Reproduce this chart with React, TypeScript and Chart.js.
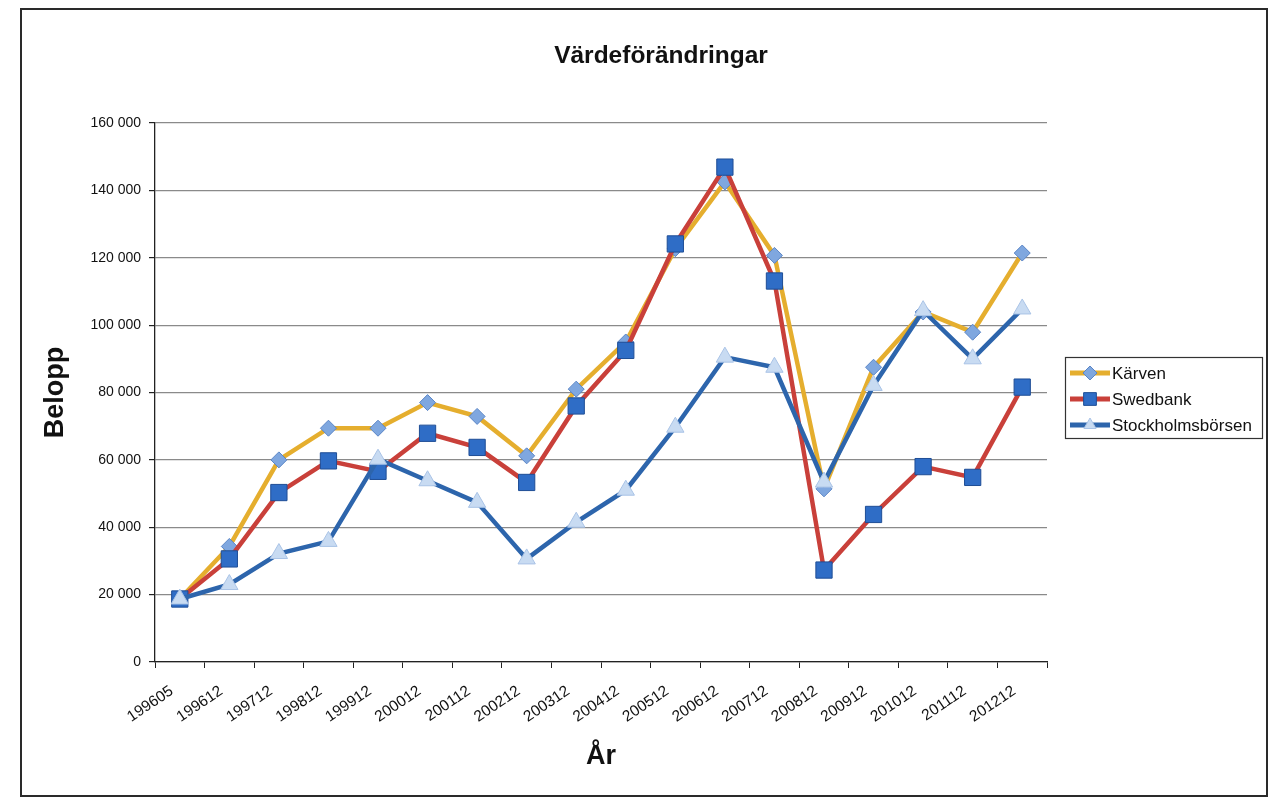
import React, { useEffect, useRef } from "react";
import { Chart, registerables } from "chart.js";

Chart.register(...registerables);

const TITLE = "Värdeförändringar";
const Y_TITLE = "Belopp";
const X_TITLE = "År";

const categories = [
  "199605", "199612", "199712", "199812", "199912", "200012", "200112", "200212", "200312",
  "200412", "200512", "200612", "200712", "200812", "200912", "201012", "201112", "201212",
];

const seriesNames = ["Kärven", "Swedbank", "Stockholmsbörsen"];

const karven = [18700, 34300, 60000, 69400, 69400, 77000, 72900, 61200, 81000, 95000, 122700, 142500, 120700, 51400, 87500, 103900, 97900, 121400];
const swedbank = [18700, 30600, 50300, 59700, 56600, 67900, 63700, 53300, 76000, 92500, 124100, 146900, 113100, 27300, 43800, 58000, 54800, 81600];
const stockholm = [18700, 23000, 32200, 35800, 60200, 53800, 47400, 30600, 41500, 51000, 69700, 90500, 87500, 53400, 82100, 104300, 90000, 104800];

const Y_MIN = 0;
const Y_MAX = 160000;
const Y_STEP = 20000;

const FONT = "'Liberation Sans', Arial, Helvetica, sans-serif";

const W = 1244;
const H = 785;

function fmt(v: number) {
  return String(v).replace(/\B(?=(\d{3})+(?!\d))/g, " ");
}

function drawMarker(ctx: CanvasRenderingContext2D, style: string, x: number, y: number, r: number, fill: string, stroke: string) {
  ctx.save();
  ctx.beginPath();
  if (style === "rectRot") {
    ctx.moveTo(x - r, y);
    ctx.lineTo(x, y - r);
    ctx.lineTo(x + r, y);
    ctx.lineTo(x, y + r);
    ctx.closePath();
  } else if (style === "rect") {
    const s = r * Math.SQRT1_2;
    ctx.rect(x - s, y - s, 2 * s, 2 * s);
  } else {
    const h = r * 1.5;
    const half = r * Math.sqrt(3) / 2;
    ctx.moveTo(x, y - r);
    ctx.lineTo(x + half, y - r + h);
    ctx.lineTo(x - half, y - r + h);
    ctx.closePath();
  }
  ctx.fillStyle = fill;
  ctx.fill();
  ctx.lineWidth = 1;
  ctx.strokeStyle = stroke;
  ctx.stroke();
  ctx.restore();
}

const decoPlugin = {
  id: "deco",
  afterDraw(chart: any) {
    const ctx: CanvasRenderingContext2D = chart.ctx;
    ctx.save();
    // Title
    ctx.fillStyle = "#111";
    ctx.font = `bold 24.5px ${FONT}`;
    ctx.textAlign = "center";
    ctx.textBaseline = "alphabetic";
    ctx.fillText(TITLE, 639, 53);

    // Legend
    const bx = 1043, by = 347, bw = 197, bh = 81;
    ctx.strokeStyle = "#333";
    ctx.lineWidth = 1.2;
    ctx.strokeRect(bx + 0.5, by + 0.5, bw, bh);
    const rows = [363, 389, 415];
    chart.data.datasets.forEach((ds: any, i: number) => {
      const y = rows[i];
      ctx.beginPath();
      ctx.moveTo(1048, y);
      ctx.lineTo(1088, y);
      ctx.strokeStyle = ds.borderColor;
      ctx.lineWidth = 5;
      ctx.stroke();
      drawMarker(ctx, ds.pointStyle, 1068, y, ds.pointStyle === "rect" ? 9 : 7, ds.pointBackgroundColor, ds.pointBorderColor);
      ctx.fillStyle = "#111";
      ctx.font = `17px ${FONT}`;
      ctx.textAlign = "left";
      ctx.textBaseline = "middle";
      ctx.fillText(seriesNames[i], 1090, y + 1);
    });
    ctx.restore();
  },
};

export default function App() {
  const ref = useRef<HTMLCanvasElement | null>(null);
  useEffect(() => {
    if (!ref.current) return;
    const chart = new Chart(ref.current, {
      type: "line",
      data: {
        labels: categories,
        datasets: [
          {
            label: seriesNames[0],
            data: karven,
            borderColor: "#E5AE2E",
            borderWidth: 4.5,
            pointStyle: "rectRot",
            pointRadius: 8,
            pointBackgroundColor: "#7FA7DF",
            pointBorderColor: "#5A85C6",
            pointBorderWidth: 1,
            tension: 0,
            order: 3,
          },
          {
            label: seriesNames[1],
            data: swedbank,
            borderColor: "#C9403A",
            borderWidth: 4.5,
            pointStyle: "rect",
            pointRadius: 11.5,
            pointBackgroundColor: "#2F6DC6",
            pointBorderColor: "#1F4E96",
            pointBorderWidth: 1,
            tension: 0,
            order: 2,
          },
          {
            label: seriesNames[2],
            data: stockholm,
            borderColor: "#2D65AC",
            borderWidth: 4.5,
            pointStyle: "triangle",
            pointRadius: 10,
            pointBackgroundColor: "#C8DBF2",
            pointBorderColor: "#A9C3E6",
            pointBorderWidth: 1,
            tension: 0,
            order: 1,
          },
        ] as any,
      },
      plugins: [decoPlugin],
      options: {
        animation: false,
        responsive: false,
        devicePixelRatio: 1,
        layout: { padding: { top: 113, right: 219, bottom: 0, left: 0 } },
        plugins: {
          legend: { display: false },
          title: { display: false },
          tooltip: { enabled: false },
        },
        scales: {
          x: {
            type: "category",
            offset: true,
            grid: {
              offset: true,
              drawOnChartArea: false,
              drawTicks: true,
              tickLength: 6,
              color: "#222",
              tickColor: "#222",
            },
            border: { display: true, color: "#222", width: 1.3 },
            ticks: {
              autoSkip: false,
              minRotation: 34,
              maxRotation: 34,
              padding: 14,
              labelOffset: -8,
              color: "#111",
              font: { family: FONT, size: 15.5 },
            },
            title: {
              display: true,
              text: X_TITLE,
              color: "#111",
              font: { family: FONT, size: 27, weight: "bold" },
              padding: { top: 0, bottom: 22 },
            },
            afterFit(scale: any) {
              scale.height = H - 652;
            },
          },
          y: {
            min: Y_MIN,
            max: Y_MAX,
            ticks: {
              stepSize: Y_STEP,
              padding: 8,
              color: "#111",
              font: { family: FONT, size: 14 },
              callback: (v: any) => fmt(Number(v)),
            },
            grid: {
              color: "#8a8a8a",
              lineWidth: 1.2,
              tickLength: 6,
              tickColor: "#222",
            },
            border: { display: true, color: "#222", width: 1.3 },
            title: {
              display: true,
              text: Y_TITLE,
              color: "#111",
              font: { family: FONT, size: 27, weight: "bold" },
              padding: { top: 17, bottom: 0 },
            },
            afterFit(scale: any) {
              scale.width = 133;
            },
          },
        },
      } as any,
    });
    return () => chart.destroy();
  }, []);

  return (
    <div
      style={{
        marginLeft: 12,
        width: 1248,
        height: H + 4,
        border: "2px solid #2a2a2a",
        boxSizing: "border-box",
        background: "#fff",
      }}
    >
      <canvas ref={ref} width={W} height={H} style={{ display: "block", width: W, height: H }} />
    </div>
  );
}
